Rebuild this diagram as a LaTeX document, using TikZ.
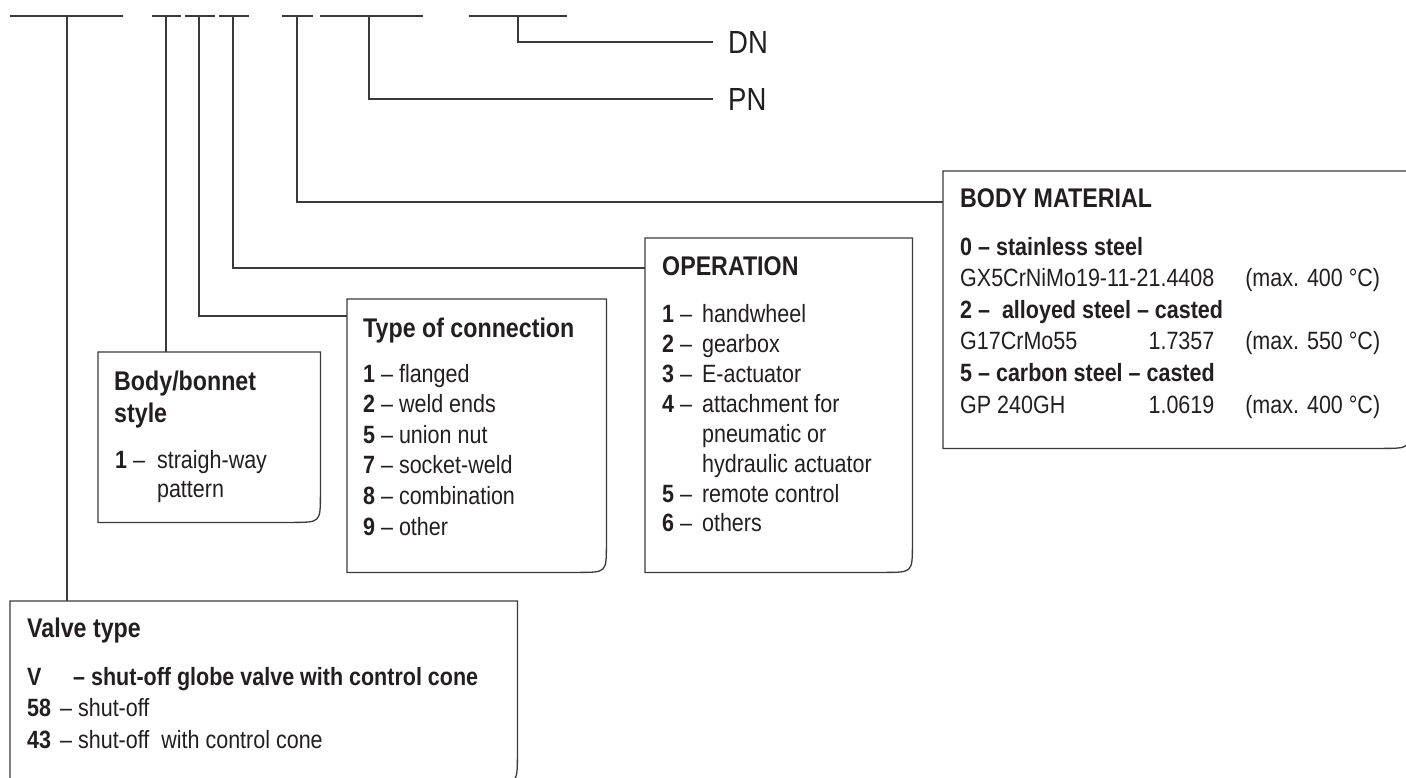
\documentclass[tikz,border=0pt]{standalone}
\usepackage{fontspec}
\setmainfont{Liberation Sans}[FakeStretch=0.86]
\usetikzlibrary{positioning}
\definecolor{ink}{HTML}{231F20}
\definecolor{wirec}{HTML}{3A3A3A}
\newcommand{\entryfont}[1]{\fontsize{25}{#1}\selectfont}
\newcommand{\panelframe}[1]{%
  \draw[panelline] (#1.south west) -- (#1.north west) -- (#1.north east)
    -- ([yshift=28pt]#1.south east) .. controls (#1.south east) .. ([xshift=-28pt]#1.south east)
    -- cycle;}
\tikzset{
    panelline/.style = {draw=wirec, line width=1.3pt, line join=miter},
    wire/.style = {draw=wirec, line width=1.3pt},
    panel/.style = {draw=none, anchor=north west, inner sep=0pt},
    boxtitle/.style = {anchor=base west, inner sep=0pt, text=ink, font=\fontsize{27}{32}\selectfont\bfseries},
    boxtext/.style = {anchor=base west, inner sep=0pt, text=ink},
    codelabel/.style = {anchor=west, inner xsep=15pt, inner ysep=0pt, text=ink, font=\fontsize{32}{36}\selectfont},
}
\begin{document}
\begin{tikzpicture}[x=1pt, y=-1pt]
\useasboundingbox (0,0) rectangle (1406,778);
\clip (0,0) rectangle (1406,778);
% code line on top
\foreach \a/\b in {10/123, 152/181, 185/215, 219/249, 282/313, 320/423, 469/567}
    \draw[wire] (\a,16) -- (\b,16);
\foreach \n/\x in {valve/67, body/166, conn/199, oper/233, matl/297, pn/369, dn/518}
    \coordinate (t\n) at (\x,16);
%
\node[panel, minimum width=507pt, minimum height=182pt] (valve) at (10,601) {};
\node[panel, minimum width=222pt, minimum height=170pt] (body) at (98,352) {};
\node[panel, minimum width=259pt, minimum height=273pt] (conn) at (347,299) {};
\node[panel, minimum width=267pt, minimum height=334pt] (oper) at (645,238) {};
\node[panel, minimum width=467pt, minimum height=277pt] (matl) at (943,171) {};
\panelframe{valve}
\panelframe{body}
\panelframe{conn}
\panelframe{oper}
\panelframe{matl}
%
\node[codelabel] (dn) at (713,42) {DN};
\node[codelabel] (pn) at (713,99) {PN};
%
\node[boxtitle] (valvetitle) at (27,637) {Valve type};
\node[boxtext] (valvelist) at (27,685) {\entryfont{31.5}\begin{tabular}[t]{@{}p{33pt}@{}l@{}}
    \textbf{V} & \hspace{13pt}\textbf{– shut-off globe valve with control cone}\\
    \textbf{58} & – shut-off\\
    \textbf{43} & – shut-off\ \ with control cone
\end{tabular}};
%
\node[boxtitle] (bodytitle) at (114,390) {\begin{tabular}[t]{@{}l@{}}Body/bonnet\\style\end{tabular}};
\node[boxtext] (bodylist) at (115,468) {\entryfont{29}\begin{tabular}[t]{@{}l@{\hspace{12pt}}l@{}}
    \textbf{1} – & straigh-way\\
     & pattern
\end{tabular}};
%
\node[boxtitle] (conntitle) at (363,337) {Type of connection};
\node[boxtext] (connlist) at (363,382) {\entryfont{30.6}\begin{tabular}[t]{@{}l@{}}
    \textbf{1} – flanged\\
    \textbf{2} – weld ends\\
    \textbf{5} – union nut\\
    \textbf{7} – socket-weld\\
    \textbf{8} – combination\\
    \textbf{9} – other
\end{tabular}};
%
\node[boxtitle] (opertitle) at (662,276) {OPERATION};
\node[boxtext] (operlist) at (662,322) {\entryfont{30}\begin{tabular}[t]{@{}l@{\hspace{10pt}}l@{}}
    \textbf{1} – & handwheel\\
    \textbf{2} – & gearbox\\
    \textbf{3} – & E-actuator\\
    \textbf{4} – & attachment for\\
     & pneumatic or\\
     & hydraulic actuator\\
    \textbf{5} – & remote control\\
    \textbf{6} – & others
\end{tabular}};
%
\node[boxtitle] (matltitle) at (960,208) {BODY MATERIAL};
\node[boxtext] (matllist) at (960,255) {\entryfont{31.6}\begin{tabular}[t]{@{}l@{}r@{\hspace{31pt}}l@{}}
    \multicolumn{3}{@{}l@{}}{\textbf{0 – stainless steel}}\\
    \multicolumn{2}{@{}l@{\hspace{31pt}}}{GX5CrNiMo19-11-21.4408} & (max. 400 °C)\\
    \multicolumn{3}{@{}l@{}}{\textbf{2 –\ \ alloyed steel – casted}}\\
    G17CrMo55 & 1.7357 & (max. 550 °C)\\
    \multicolumn{3}{@{}l@{}}{\textbf{5 – carbon steel – casted}}\\
    GP 240GH & 1.0619 & (max. 400 °C)
\end{tabular}};
%
\draw[wire] (tvalve) -- (tvalve |- valve.north);
\draw[wire] (tbody) -- (tbody |- body.north);
\draw[wire] (tconn) |- ([yshift=-17pt]conn.north west);
\draw[wire] (toper) |- ([yshift=-30pt]oper.north west);
\draw[wire] (tmatl) |- ([yshift=-31pt]matl.north west);
\draw[wire] (tpn) |- (pn.west);
\draw[wire] (tdn) |- (dn.west);
\end{tikzpicture}
\end{document}
